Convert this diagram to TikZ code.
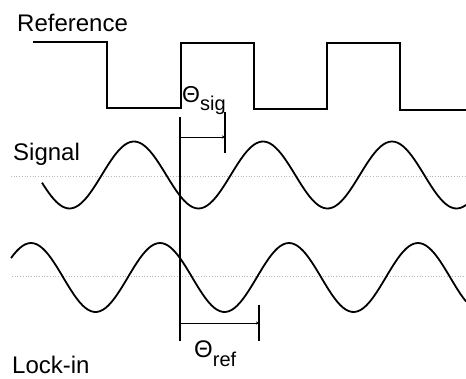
\documentclass[tikz,border=0pt]{standalone}
\usepackage{fontspec}
\setmainfont{Liberation Sans}
\usetikzlibrary{arrows.meta, positioning}

\begin{document}
\begin{tikzpicture}[
    x=1pt, y=-1pt,
    lbl/.style={anchor=base west, inner sep=0pt, font=\fontsize{24}{28}\selectfont},
    wave/.style={line width=2pt, line join=miter},
    zero/.style={gray!55, dotted, line width=0.7pt},
    bar/.style={line width=1.4pt},
    dim/.style={line width=1pt, -{Stealth[length=3pt, width=3pt]}}
]
\useasboundingbox (0,0) rectangle (466,378);

% labels
\node[lbl] (ref) at (17,31) {Reference};
\node[lbl] (sig) at (13,160) {Signal};
\node[lbl] (lock) at (12,373) {Lock-in};

% reference square wave
\draw[wave] (33,42) -- (107,42) -- (107,108) -- (181,108) -- (181,43)
    -- (254,43) -- (254,109) -- (327,109) -- (327,43) -- (400,43)
    -- (400,110) -- (466,110);

% zero lines
\coordinate (z1a) at (11,176);
\coordinate (z1b) at (466,176);
\coordinate (z2a) at (12,276);
\coordinate (z2b) at (466,276);
\draw[zero] (z1a) -- (z1b);
\draw[zero] (z2a) -- (z2b);

% signal and lock-in
\draw[wave, line width=1.8pt] plot[domain=42:466, samples=150]
    (\x, {175 - 33.5*cos(2.7907*(\x-134))});
\draw[wave, line width=1.8pt] plot[domain=11:466, samples=160]
    (\x, {277.5 - 34.5*cos(2.7907*(\x-160))});

% phase marker
\coordinate (ptop) at (180,117);
\coordinate (pbot) at (180,341);
\draw[bar] (ptop) -- (pbot);

\coordinate (sigstart) at (180,137);
\coordinate (sigend) at (225,137);
\coordinate (sigtop) at (225,112);
\coordinate (sigbot) at (225,153);
\draw[dim] (sigstart) -- (sigend);
\draw[bar] (sigtop) -- (sigbot);

\coordinate (refstart) at (180,323);
\coordinate (refend) at (259,323);
\coordinate (reftop) at (259,305);
\coordinate (refbot) at (259,341);
\draw[dim] (refstart) -- (refend);
\draw[bar] (reftop) -- (refbot);

\node[lbl, font=\fontsize{23}{26}\selectfont] (tsig) at (182,102)
    {Θ\raisebox{-8pt}{\fontsize{20}{20}\selectfont sig}};
\node[lbl] (tref) at (194,357)
    {Θ\raisebox{-9pt}{\fontsize{20}{20}\selectfont ref}};
\end{tikzpicture}
\end{document}
